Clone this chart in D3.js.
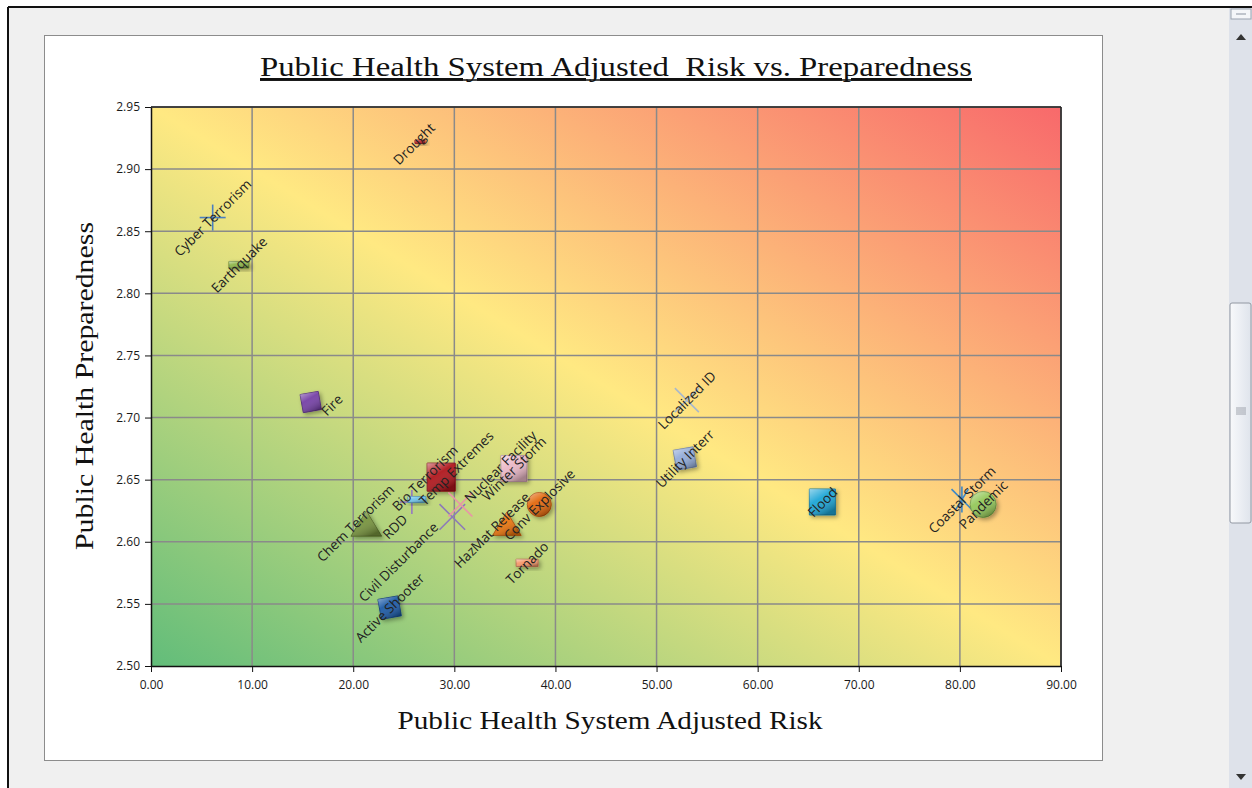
<!DOCTYPE html>
<html>
<head>
<meta charset="utf-8">
<script src="https://cdn.jsdelivr.net/npm/d3@7"></script>
<style>
  body { margin: 0; background: #fff; }
  svg { display: block; }
  .tick text { font-family: "Open Sans", sans-serif; font-size: 12px; fill: #1a1a1a; }
  .lbl { font-family: "Open Sans", sans-serif; font-size: 13.5px; fill: #222; }
</style>
</head>
<body>
<svg id="chart" width="1252" height="788"></svg>
<script>
// hazards and their (risk, preparedness) values
const hazards = ["Drought", "Cyber Terrorism", "Earthquake", "Fire", "Chem Terrorism",
  "Bio Terrorism", "RDD", "Temp Extremes", "Civil Disturbance", "Nuclear Facility",
  "Winter Storm", "HazMat Release", "Conv Explosive", "Tornado", "Active Shooter",
  "Localized ID", "Utility Interr", "Flood", "Coastal Storm", "Pandemic"];
const riskValues = [26.6, 6.1, 8.7, 15.8, 21.3, 25.8, 26.3, 28.7, 29.8, 30.6,
  35.9, 35.2, 38.4, 37.2, 23.6, 53.0, 52.8, 66.4, 80.2, 82.3];
const prepValues = [2.922, 2.861, 2.823, 2.7125, 2.6135, 2.632, 2.634, 2.652, 2.620, 2.630,
  2.659, 2.6135, 2.630, 2.583, 2.547, 2.714, 2.667, 2.632, 2.634, 2.630];
const xTickValues = [0, 10, 20, 30, 40, 50, 60, 70, 80, 90];
const yTickValues = [2.50, 2.55, 2.60, 2.65, 2.70, 2.75, 2.80, 2.85, 2.90, 2.95];

// marker look per hazard
const markerShapes = ["dash", "plus", "dash", "diamond", "triangle",
  "plus", "dash", "square", "cross", "cross",
  "square", "triangle", "circle", "dash", "diamond",
  "cross", "diamond", "square", "star", "circle"];
const markerColors = ["#c3262b", "#4a7fc0", "#8db548", "#7440a6", "#77933c",
  "#9478c2", "#6fc3ea", "#b0141f", "#8d7ab8", "#ea93a8",
  "#e9b7c6", "#ec7410", "#e2680c", "#f7976a", "#1c5aa6",
  "#a8b8cc", "#93acd9", "#1fa5d6", "#3c88c8", "#94c85a"];
const markerSizes = [10, 26, 20, 20, 28, 24, 18, 28, 32, 30, 26, 26, 24, 22, 22, 30, 22, 26, 26, 26];

// hand-moved data labels (pixel nudges)
const labelNudge = {
  "Drought": [-6, 2], "Fire": [21, 3], "Chem Terrorism": [-11, -2],
  "Bio Terrorism": [13, -24], "RDD": [-22, 27], "Temp Extremes": [15, -9],
  "Civil Disturbance": [-54, 45], "Nuclear Facility": [40, -38], "HazMat Release": [-15, 5]
};

const svg = d3.select("svg#chart");
const defs = svg.append("defs");

// window background
svg.append("rect").attr("width", 1252).attr("height", 788).attr("fill", "#fff");
svg.append("rect").attr("x", 9).attr("y", 8).attr("width", 1243).attr("height", 780).attr("fill", "#f0f0f0");
svg.append("line").attr("x1", 8).attr("x2", 1252).attr("y1", 7).attr("y2", 7).attr("stroke", "#111").attr("stroke-width", 2);
svg.append("line").attr("x1", 8).attr("x2", 8).attr("y1", 7).attr("y2", 788).attr("stroke", "#111").attr("stroke-width", 2);

// scrollbar
let sb = svg.append("g");
sb.append("rect").attr("x", 1229).attr("y", 8).attr("width", 23).attr("height", 780).attr("fill", "#dee2ea");
sb.append("rect").attr("x", 1231).attr("y", 9).attr("width", 20).attr("height", 10).attr("fill", "#f4f6f9").attr("stroke", "#9aa3b0");
sb.append("line").attr("x1", 1236).attr("x2", 1246).attr("y1", 14).attr("y2", 14).attr("stroke", "#8a93a0");
sb.append("path").attr("d", "M1236,40 L1246,40 L1241,34 Z").attr("fill", "#333");
sb.append("path").attr("d", "M1236,774 L1246,774 L1241,780 Z").attr("fill", "#333");
let thumbGrad = defs.append("linearGradient").attr("id", "thumb");
thumbGrad.append("stop").attr("offset", 0).attr("stop-color", "#f8f9fb");
thumbGrad.append("stop").attr("offset", 1).attr("stop-color", "#dfe4ec");
sb.append("rect").attr("x", 1230).attr("y", 303).attr("width", 21).attr("height", 220).attr("rx", 2)
  .attr("fill", "url(#thumb)").attr("stroke", "#9298a2");
for (let i = 0; i < 4; i++) {
  sb.append("line").attr("x1", 1236).attr("x2", 1246).attr("y1", 408 + i * 2).attr("y2", 408 + i * 2)
    .attr("stroke", "#8d939c").attr("stroke-width", 0.8);
}

// chart box
svg.append("rect").attr("x", 44.5).attr("y", 35.5).attr("width", 1058).attr("height", 725)
  .attr("fill", "#fff").attr("stroke", "#8c8c8c");

const x = d3.scaleLinear().domain([0, 90]).range([151, 1061]);
const y = d3.scaleLinear().domain([2.5, 2.95]).range([666, 107]);

// plot background gradient: green (low risk / low prep) -> yellow -> red
let bg = defs.append("linearGradient").attr("id", "bg")
  .attr("x1", 0).attr("y1", 1).attr("x2", 1).attr("y2", 0);
bg.append("stop").attr("offset", 0).attr("stop-color", "#62bd7a");
bg.append("stop").attr("offset", 0.5).attr("stop-color", "#ffe982");
bg.append("stop").attr("offset", 1).attr("stop-color", "#f8696b");
svg.append("rect").attr("x", x(0)).attr("y", y(2.95)).attr("width", x(90) - x(0)).attr("height", y(2.5) - y(2.95))
  .attr("fill", "url(#bg)");

// gridlines
svg.append("g").selectAll("line").data(xTickValues.slice(1)).join("line")
  .attr("x1", d => x(d)).attr("x2", d => x(d)).attr("y1", y(2.95)).attr("y2", y(2.5))
  .attr("stroke", "#8a8a8a").attr("stroke-width", 1.5);
svg.append("g").selectAll("line").data(yTickValues.slice(1)).join("line")
  .attr("x1", x(0)).attr("x2", x(90)).attr("y1", d => y(d)).attr("y2", d => y(d))
  .attr("stroke", "#8a8a8a").attr("stroke-width", 1.5);

// plot border top/right
svg.append("line").attr("x1", x(0)).attr("x2", x(90)).attr("y1", y(2.95)).attr("y2", y(2.95)).attr("stroke", "#222").attr("stroke-width", 1.5);
svg.append("line").attr("x1", x(90)).attr("x2", x(90)).attr("y1", y(2.95)).attr("y2", y(2.5)).attr("stroke", "#222").attr("stroke-width", 1.5);

// axes
let xAxis = svg.append("g").attr("transform", "translate(0," + y(2.5) + ")")
  .call(d3.axisBottom(x).tickValues(xTickValues).tickFormat(d3.format(".2f")).tickSize(6).tickSizeOuter(0));
let yAxis = svg.append("g").attr("transform", "translate(" + x(0) + ",0)")
  .call(d3.axisLeft(y).tickValues(yTickValues).tickFormat(d3.format(".2f")).tickSize(6).tickSizeOuter(0));
[xAxis, yAxis].forEach(a => {
  a.select(".domain").attr("stroke", "#111").attr("stroke-width", 1.5);
  a.selectAll(".tick line").attr("stroke", "#111");
});
xAxis.selectAll(".tick text").attr("dy", "1.2em");
yAxis.selectAll(".tick text").attr("x", -11);

// titles
svg.append("text").attr("x", 616).attr("y", 76).attr("text-anchor", "middle")
  .attr("font-family", "Liberation Serif, serif").attr("font-size", 28).attr("fill", "#111")
  .attr("textLength", 712).attr("lengthAdjust", "spacingAndGlyphs")
  .attr("text-decoration", "underline")
  .text("Public Health System Adjusted\u00a0 Risk vs. Preparedness");
svg.append("line").attr("x1", 260).attr("x2", 972).attr("y1", 80).attr("y2", 80).attr("stroke", "#111").attr("stroke-width", 1.3);
svg.append("text").attr("x", 610).attr("y", 729).attr("text-anchor", "middle")
  .attr("font-family", "Liberation Serif, serif").attr("font-size", 25).attr("fill", "#111")
  .attr("textLength", 425).attr("lengthAdjust", "spacingAndGlyphs")
  .text("Public Health System Adjusted Risk");
svg.append("text").attr("transform", "translate(93,386) rotate(-90)").attr("text-anchor", "middle")
  .attr("font-family", "Liberation Serif, serif").attr("font-size", 25).attr("fill", "#111")
  .attr("textLength", 328).attr("lengthAdjust", "spacingAndGlyphs")
  .text("Public Health Preparedness");

// gloss + shadow for filled markers
let gloss = defs.append("linearGradient").attr("id", "gloss").attr("x1", 0).attr("y1", 0).attr("x2", 0.6).attr("y2", 1);
gloss.append("stop").attr("offset", 0).attr("stop-color", "#fff").attr("stop-opacity", 0.55);
gloss.append("stop").attr("offset", 0.45).attr("stop-color", "#fff").attr("stop-opacity", 0.05);
gloss.append("stop").attr("offset", 1).attr("stop-color", "#000").attr("stop-opacity", 0.3);
let shadow = defs.append("filter").attr("id", "shadow").attr("x", "-50%").attr("y", "-50%").attr("width", "200%").attr("height", "200%");
shadow.append("feDropShadow").attr("dx", 2).attr("dy", 2).attr("stdDeviation", 2).attr("flood-color", "#000").attr("flood-opacity", 0.35);

function shapePath(shape, s) {
  let h = s / 2;
  if (shape == "square") return `M${-h},${-h}H${h}V${h}H${-h}Z`;
  if (shape == "diamond") {
    let pts = d3.range(4).map(k => {
      let a = (k * 90 + 35) * Math.PI / 180;
      return [Math.cos(a) * h * 1.3, Math.sin(a) * h * 1.3];
    });
    return "M" + pts.join("L") + "Z";
  }
  if (shape == "triangle") return `M0,${-h}L${h * 1.1},${h * 0.8}L${-h * 1.1},${h * 0.8}Z`;
  if (shape == "circle") return d3.arc()({innerRadius: 0, outerRadius: h, startAngle: 0, endAngle: 2 * Math.PI});
  if (shape == "dash") return `M${-h},${-s / 6}H${h}V${s / 6}H${-h}Z`;
  return "";
}

const points = hazards.map((name, i) => ({
  name: name, risk: riskValues[i], prep: prepValues[i],
  shape: markerShapes[i], color: markerColors[i], size: markerSizes[i]
}));

let marks = svg.append("g").selectAll("g").data(points).join("g")
  .attr("transform", d => "translate(" + x(d.risk) + "," + y(d.prep) + ")");

marks.each(function (d) {
  let g = d3.select(this);
  let h = d.size / 2;
  if (d.shape == "plus" || d.shape == "cross" || d.shape == "star") {
    let segs = [];
    if (d.shape == "plus") segs = [[-h, 0, h, 0], [0, -h, 0, h]];
    if (d.shape == "cross") segs = [[-h * 0.8, -h * 0.8, h * 0.8, h * 0.8], [-h * 0.8, h * 0.8, h * 0.8, -h * 0.8]];
    if (d.shape == "star") segs = [[-h * 0.8, -h * 0.8, h * 0.8, h * 0.8], [-h * 0.5, h * 0.8, h * 0.5, -h * 0.8], [0, -h, 0, h]];
    segs.forEach(s => g.append("line").attr("x1", s[0]).attr("y1", s[1]).attr("x2", s[2]).attr("y2", s[3])
      .attr("stroke", d.color).attr("stroke-width", 1.6));
  } else {
    let p = shapePath(d.shape, d.size);
    g.append("path").attr("d", p).attr("fill", d.color)
      .attr("stroke", d3.color(d.color).darker(0.8)).attr("stroke-width", 1)
      .attr("filter", "url(#shadow)");
    g.append("path").attr("d", p).attr("fill", "url(#gloss)");
  }
});

// data labels, rotated like the original
svg.append("g").selectAll("text").data(points).join("text")
  .attr("class", "lbl")
  .attr("text-anchor", "middle").attr("dominant-baseline", "central")
  .attr("transform", d => {
    let n = labelNudge[d.name] || [0, 0];
    return "translate(" + (x(d.risk) + n[0]) + "," + (y(d.prep) + n[1]) + ") rotate(-45)";
  })
  .text(d => d.name);
</script>
</body>
</html>
